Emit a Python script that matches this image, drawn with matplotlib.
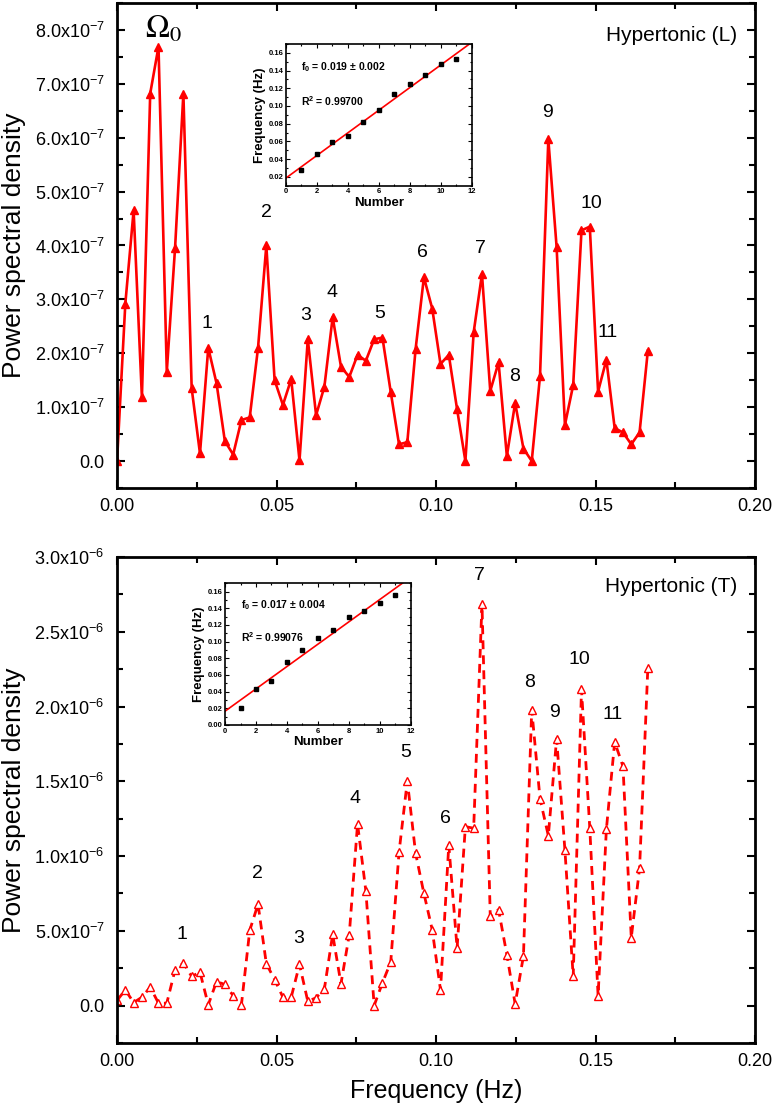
import matplotlib
matplotlib.use("Agg")
import matplotlib.pyplot as plt
from matplotlib.ticker import MultipleLocator, FuncFormatter
import numpy as np

plt.rcParams['font.family'] = ['Liberation Sans', 'DejaVu Sans']
plt.rcParams['mathtext.fontset'] = 'custom'
plt.rcParams['mathtext.rm'] = 'Liberation Sans'
plt.rcParams['mathtext.it'] = 'Liberation Sans:italic'
plt.rcParams['mathtext.bf'] = 'Liberation Sans:bold'

# frequency bins (Hz)
freq = [0.0000, 0.0026, 0.0052, 0.0078, 0.0104, 0.0130, 0.0156, 0.0182, 0.0208, 0.0234,
        0.0260, 0.0286, 0.0312, 0.0338, 0.0364, 0.0390, 0.0416, 0.0442, 0.0468, 0.0494,
        0.0520, 0.0546, 0.0572, 0.0598, 0.0624, 0.0650, 0.0676, 0.0702, 0.0728, 0.0754,
        0.0780, 0.0806, 0.0832, 0.0858, 0.0884, 0.0910, 0.0936, 0.0962, 0.0988, 0.1014,
        0.1040, 0.1066, 0.1092, 0.1118, 0.1144, 0.1170, 0.1196, 0.1222, 0.1248, 0.1274,
        0.1300, 0.1326, 0.1352, 0.1378, 0.1404, 0.1430, 0.1456, 0.1482, 0.1508, 0.1534,
        0.1560, 0.1586, 0.1612, 0.1638, 0.1664]

# Hypertonic (L), units of 1e-7
psd_L = [0.00, 2.92, 4.65, 1.18, 6.82, 7.69, 1.66, 3.96, 6.82, 1.35,
         0.14, 2.10, 1.44, 0.37, 0.12, 0.76, 0.81, 2.10, 4.00, 1.50,
         1.04, 1.52, 0.01, 2.26, 0.85, 1.38, 2.67, 1.75, 1.56, 1.97,
         1.86, 2.26, 2.29, 1.28, 0.31, 0.35, 2.08, 3.41, 2.83, 1.80,
         1.97, 0.96, 0.00, 2.39, 3.47, 1.30, 1.83, 0.09, 1.08, 0.23,
         0.00, 1.58, 5.97, 3.97, 0.67, 1.41, 4.28, 4.35, 1.29, 1.88,
         0.61, 0.53, 0.31, 0.53, 2.05]

# Hypertonic (T), units of 1e-6
psd_T = [0.034, 0.105, 0.020, 0.056, 0.123, 0.016, 0.016, 0.240, 0.284, 0.195,
         0.224, 0.005, 0.161, 0.141, 0.067, 0.007, 0.503, 0.678, 0.280, 0.174,
         0.056, 0.056, 0.275, 0.029, 0.052, 0.112, 0.476, 0.146, 0.474, 1.215,
         0.767, 0.000, 0.152, 0.291, 1.025, 1.503, 1.018, 0.750, 0.508, 0.105,
         1.074, 0.385, 1.197, 1.186, 2.685, 0.597, 0.642, 0.340, 0.011, 0.331,
         1.980, 1.383, 1.136, 1.785, 1.040, 0.195, 2.114, 1.186, 0.067, 1.179,
         1.763, 1.600, 0.454, 0.917, 2.260]

# inset data: peak number vs frequency
number = [1, 2, 3, 4, 5, 6, 7, 8, 9, 10, 11]
peak_f_L = [0.028, 0.046, 0.059, 0.066, 0.082, 0.095, 0.113, 0.125, 0.135, 0.147, 0.153]
peak_f_T = [0.020, 0.043, 0.053, 0.075, 0.090, 0.104, 0.114, 0.129, 0.137, 0.146, 0.156]

labels_L = [('1', 0.0282, 2.55), ('2', 0.0467, 4.61), ('3', 0.0592, 2.70), ('4', 0.0674, 3.13),
            ('5', 0.0824, 2.74), ('6', 0.0956, 3.87), ('7', 0.1138, 3.94), ('8', 0.1245, 1.56),
            ('9', 0.1348, 6.46), ('10', 0.1486, 4.78), ('11', 0.1539, 2.38)]
labels_T = [('1', 0.0202, 0.476), ('2', 0.0440, 0.884), ('3', 0.0569, 0.447), ('4', 0.0746, 1.387),
            ('5', 0.0905, 1.693), ('6', 0.1031, 1.253), ('7', 0.1135, 2.875), ('8', 0.1293, 2.159),
            ('9', 0.1371, 1.962), ('10', 0.1448, 2.315), ('11', 0.1553, 1.946)]


def sci(v, pos):
    if abs(v) < 1e-13:
        return '0.0'
    e = int(np.floor(np.log10(abs(v)) + 1e-9))
    m = v / 10 ** e
    return f'{m:.1f}x10$^{{{e}}}$'


def style_main(ax, ystep):
    for s in ax.spines.values():
        s.set_linewidth(2)
    ax.set_xlim(0, 0.2)
    ax.xaxis.set_major_locator(MultipleLocator(0.05))
    ax.xaxis.set_minor_locator(MultipleLocator(0.025))
    ax.xaxis.set_major_formatter(FuncFormatter(lambda v, p: f'{v:.2f}'))
    ax.yaxis.set_major_locator(MultipleLocator(ystep))
    ax.yaxis.set_minor_locator(MultipleLocator(ystep / 2))
    ax.yaxis.set_major_formatter(FuncFormatter(sci))
    ax.tick_params(which='both', direction='in', top=True, right=True, width=1.5, labelsize=13)
    ax.tick_params(which='major', length=6)
    ax.tick_params(which='minor', length=4)
    ax.tick_params(axis='y', pad=9)
    ax.tick_params(axis='x', pad=7)
    ax.set_ylabel('Power spectral density', fontsize=19)
    ax.yaxis.set_label_coords(-0.143, 0.5)


def style_inset(ax, ylo, fit_text, r2_text, ty1, ty2):
    for s in ax.spines.values():
        s.set_linewidth(1.2)
    ax.set_xlim(0, 12)
    ax.set_ylim(ylo, 0.17)
    ax.xaxis.set_major_locator(MultipleLocator(2))
    ax.xaxis.set_minor_locator(MultipleLocator(1))
    ax.yaxis.set_major_locator(MultipleLocator(0.02))
    ax.yaxis.set_minor_locator(MultipleLocator(0.01))
    ax.yaxis.set_major_formatter(FuncFormatter(lambda v, p: f'{v:.2f}'))
    ax.xaxis.set_major_formatter(FuncFormatter(lambda v, p: f'{v:.0f}'))
    ax.tick_params(which='both', direction='in', top=True, right=True, width=0.8, labelsize=5.5, pad=2)
    ax.tick_params(which='major', length=3)
    ax.tick_params(which='minor', length=1.5)
    for t in ax.get_xticklabels() + ax.get_yticklabels():
        t.set_fontweight('bold')
    ax.set_xlabel('Number', fontsize=9.5, fontweight='bold', labelpad=1)
    ax.set_ylabel('Frequency (Hz)', fontsize=9.5, fontweight='bold', labelpad=2)
    ax.text(1.0, ty1, fit_text, fontsize=7.5, fontweight='bold', va='center')
    ax.text(1.0, ty2, r2_text, fontsize=7.5, fontweight='bold', va='center')


fig = plt.figure(figsize=(7.74, 11.08), dpi=100)

# ---- top panel: Hypertonic (L)
ax1 = fig.add_axes([0.1512, 0.5596, 0.8243, 0.4377])
ax1.plot(freq, np.array(psd_L) * 1e-7, color='red', lw=1.9, marker='^', ms=5.5,
         markerfacecolor='red', markeredgecolor='red')
ax1.set_ylim(-0.5e-7, 8.5e-7)
style_main(ax1, 1e-7)
for txt, x, y in labels_L:
    ax1.text(x, y * 1e-7, txt, fontsize=14, ha='center', va='center')
ax1.text(0.0145, 8.0e-7, r'$\Omega_0$', fontsize=23, ha='center', va='center', math_fontfamily='stix')
ax1.text(0.1945, 7.9e-7, 'Hypertonic (L)', fontsize=15, ha='right', va='center')

# ---- bottom panel: Hypertonic (T)
ax2 = fig.add_axes([0.1512, 0.0587, 0.8243, 0.4386])
ax2.plot(freq, np.array(psd_T) * 1e-6, color='red', lw=2.0, dashes=(3.2, 2.2), marker='^', ms=6,
         markerfacecolor='white', markeredgecolor='red', markeredgewidth=1)
ax2.set_ylim(-0.25e-6, 3.0e-6)
style_main(ax2, 0.5e-6)
for txt, x, y in labels_T:
    ax2.text(x, y * 1e-6, txt, fontsize=14, ha='center', va='center')
ax2.text(0.1945, 2.8e-6, 'Hypertonic (T)', fontsize=15, ha='right', va='center')
ax2.set_xlabel('Frequency (Hz)', fontsize=18)
ax2.xaxis.set_label_coords(0.5, -0.075)

# ---- insets with linear fits
xs = np.array([0, 12])
for pos, pf, ylo, t1, t2 in [
        ([0.3695, 0.8324, 0.2403, 0.1279], peak_f_L, 0.01,
         r'f$_\mathbf{0}$ = 0.019 ± 0.002', r'R$^\mathbf{2}$ = 0.99700'),
        ([0.2907, 0.3457, 0.2403, 0.1279], peak_f_T, 0.0,
         r'f$_\mathbf{0}$ = 0.017 ± 0.004', r'R$^\mathbf{2}$ = 0.99076')]:
    ins = fig.add_axes(pos)
    k, b = np.polyfit(number, pf, 1)
    ins.plot(xs, k * xs + b, color='red', lw=1.2)
    ins.plot(number, pf, 's', color='black', ms=2.8)
    style_inset(ins, ylo, t1, t2, 0.144, 0.106)

fig.savefig('out.png', dpi=100)
